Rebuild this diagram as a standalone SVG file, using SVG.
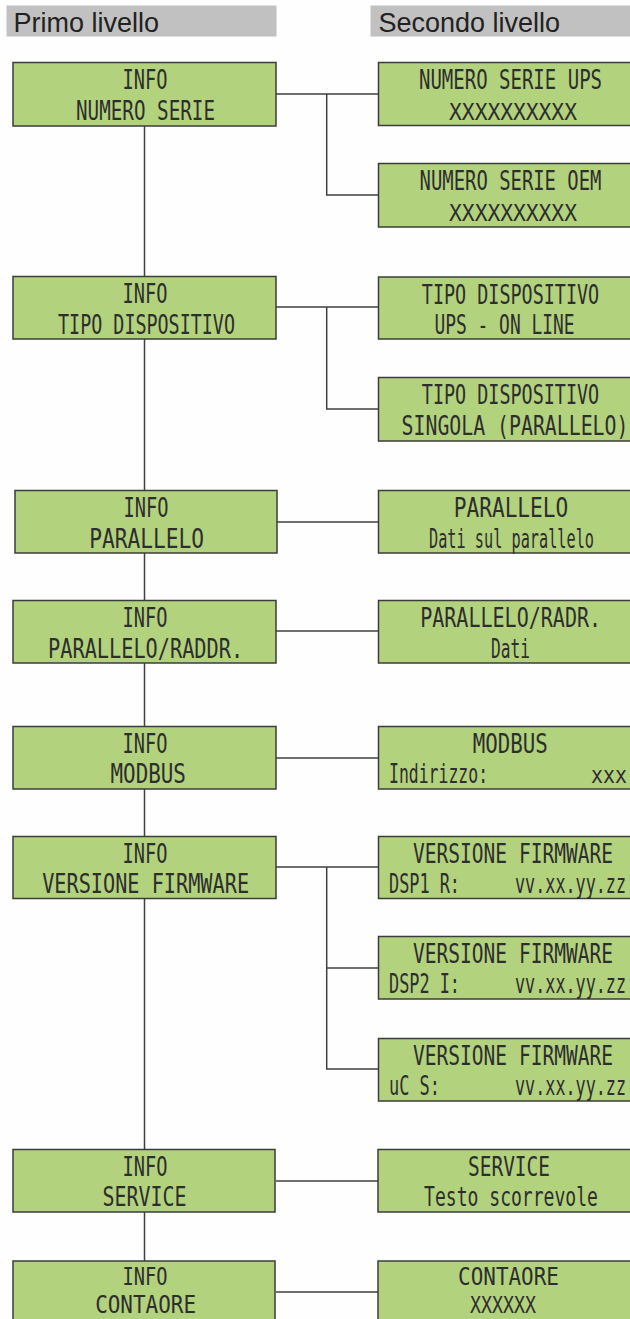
<svg xmlns="http://www.w3.org/2000/svg" width="630" height="1319" viewBox="0 0 630 1319">
<style>
.bar{fill:#c1c1c1}
.hdr{font-family:"Liberation Sans",Arial,sans-serif;font-size:27px;fill:#222}
.box{fill:#b3d27d;stroke:#3c3c3c;stroke-width:1.5}
.lcd{font-family:"DejaVu Sans Mono","Liberation Mono",monospace;font-size:26px;fill:#2e2e2e;text-anchor:middle}
.st{text-anchor:start}
.en{text-anchor:end}
.sm{font-size:23px}
.md{font-size:24px}
.conn{fill:none;stroke:#404040;stroke-width:1.5}
</style>
<rect width="630" height="1319" fill="#fefefe"/>
<g id="header">
<rect class="bar" x="6.5" y="5.5" width="270" height="31"/>
<text class="hdr" x="13.5" y="31.5">Primo livello</text>
<rect class="bar" x="370.5" y="5.5" width="260" height="31"/>
<text class="hdr" x="378.5" y="31.5">Secondo livello</text>
</g>
<g id="connectors">
<path class="conn" d="M144.5,126 V276 M144.5,339 V490 M144.5,553 V600 M144.5,663 V726 M144.5,789 V836 M144.5,898 V1149 M144.5,1212 V1261"/>
<path class="conn" d="M276,94 H378 M326.7,94 V195 H378"/>
<path class="conn" d="M276,307 H378 M326.7,307 V409 H378"/>
<path class="conn" d="M277,522 H378"/>
<path class="conn" d="M276,631 H378"/>
<path class="conn" d="M276,758 H378"/>
<path class="conn" d="M276,867 H378 M326.7,867 V1069 H378 M326.7,968 H378"/>
<path class="conn" d="M276,1181 H378"/>
<path class="conn" d="M276,1292 H378"/>
</g>
<g id="n-info-numero-serie">
<rect class="box" x="13" y="62.5" width="263" height="63.5"/>
<text class="lcd" transform="translate(145 89) scale(0.719 1)">INFO</text>
<text class="lcd" transform="translate(145.5 119.5) scale(0.74 1)">NUMERO SERIE</text>
</g>
<g id="n-numero-serie-ups">
<rect class="box" x="378.5" y="62.5" width="264" height="63"/>
<text class="lcd" transform="translate(510.5 89) scale(0.731 1)">NUMERO SERIE UPS</text>
<text class="lcd sm" transform="translate(513 119.5) scale(0.924 1)">XXXXXXXXXX</text>
</g>
<g id="n-numero-serie-oem">
<rect class="box" x="378.5" y="163.5" width="264" height="63.5"/>
<text class="lcd" transform="translate(510.5 190) scale(0.727 1)">NUMERO SERIE OEM</text>
<text class="lcd sm" transform="translate(513 220.5) scale(0.924 1)">XXXXXXXXXX</text>
</g>
<g id="n-info-tipo-dispositivo">
<rect class="box" x="13" y="276.5" width="263" height="62.5"/>
<text class="lcd" transform="translate(145 303) scale(0.719 1)">INFO</text>
<text class="lcd" transform="translate(146.5 333.5) scale(0.707 1)">TIPO DISPOSITIVO</text>
</g>
<g id="n-tipo-ups-online">
<rect class="box" x="378.5" y="277" width="264" height="62"/>
<text class="lcd" transform="translate(510.5 303.5) scale(0.709 1)">TIPO DISPOSITIVO</text>
<text class="lcd" transform="translate(504.5 334) scale(0.688 1)">UPS - ON LINE</text>
</g>
<g id="n-tipo-singola">
<rect class="box" x="378.5" y="377.5" width="264" height="63.5"/>
<text class="lcd" transform="translate(510.5 404) scale(0.709 1)">TIPO DISPOSITIVO</text>
<text class="lcd" transform="translate(515 434.5) scale(0.763 1)">SINGOLA (PARALLELO)</text>
</g>
<g id="n-info-parallelo">
<rect class="box" x="15" y="490.5" width="262" height="62.5"/>
<text class="lcd" transform="translate(146 517) scale(0.719 1)">INFO</text>
<text class="lcd" transform="translate(146.6 547.5) scale(0.816 1)">PARALLELO</text>
</g>
<g id="n-parallelo">
<rect class="box" x="378.5" y="490.5" width="264" height="62.5"/>
<text class="lcd" transform="translate(511 517) scale(0.813 1)">PARALLELO</text>
<text class="lcd" transform="translate(511.5 547.5) scale(0.586 1)">Dati sul parallelo</text>
</g>
<g id="n-info-parallelo-raddr">
<rect class="box" x="13" y="600.5" width="263" height="62.5"/>
<text class="lcd" transform="translate(145 627) scale(0.719 1)">INFO</text>
<text class="lcd" transform="translate(145.6 657.5) scale(0.779 1)">PARALLELO/RADDR.</text>
</g>
<g id="n-parallelo-radr">
<rect class="box" x="378.5" y="600.5" width="264" height="62.5"/>
<text class="lcd" transform="translate(510.6 627) scale(0.771 1)">PARALLELO/RADR.</text>
<text class="lcd" transform="translate(510.5 657.5) scale(0.623 1)">Dati</text>
</g>
<g id="n-info-modbus">
<rect class="box" x="13" y="726.5" width="263" height="62.5"/>
<text class="lcd" transform="translate(145 753) scale(0.719 1)">INFO</text>
<text class="lcd" transform="translate(148.2 783) scale(0.804 1)">MODBUS</text>
</g>
<g id="n-modbus">
<rect class="box" x="378.5" y="726.5" width="264" height="62.5"/>
<text class="lcd" transform="translate(510.2 753) scale(0.799 1)">MODBUS</text>
<text class="lcd st" transform="translate(389 782.5) scale(0.633 1)">Indirizzo:</text>
<text class="lcd sm en" transform="translate(627 782.5) scale(0.866 1)">xxx</text>
</g>
<g id="n-info-versione">
<rect class="box" x="13" y="836.5" width="263" height="62"/>
<text class="lcd" transform="translate(145 863) scale(0.719 1)">INFO</text>
<text class="lcd" transform="translate(145.6 892.5) scale(0.778 1)">VERSIONE FIRMWARE</text>
</g>
<g id="n-versione-dsp1">
<rect class="box" x="378.5" y="836.5" width="264" height="62"/>
<text class="lcd" transform="translate(513 863) scale(0.752 1)">VERSIONE FIRMWARE</text>
<text class="lcd st" transform="translate(389 892.5) scale(0.648 1)">DSP1 R:</text>
<text class="lcd en" transform="translate(626 892.5) scale(0.645 1)">vv.xx.yy.zz</text>
</g>
<g id="n-versione-dsp2">
<rect class="box" x="378.5" y="936.5" width="264" height="62.5"/>
<text class="lcd" transform="translate(513 963) scale(0.752 1)">VERSIONE FIRMWARE</text>
<text class="lcd st" transform="translate(389 993) scale(0.648 1)">DSP2 I:</text>
<text class="lcd en" transform="translate(626 993) scale(0.645 1)">vv.xx.yy.zz</text>
</g>
<g id="n-versione-uc">
<rect class="box" x="378.5" y="1038.5" width="264" height="62.5"/>
<text class="lcd" transform="translate(513 1065) scale(0.752 1)">VERSIONE FIRMWARE</text>
<text class="lcd st" transform="translate(389 1095) scale(0.652 1)">uC S:</text>
<text class="lcd en" transform="translate(626 1095) scale(0.645 1)">vv.xx.yy.zz</text>
</g>
<g id="n-info-service">
<rect class="box" x="13" y="1149.5" width="262" height="62.5"/>
<text class="lcd" transform="translate(145 1176) scale(0.719 1)">INFO</text>
<text class="lcd" transform="translate(144.6 1206) scale(0.767 1)">SERVICE</text>
</g>
<g id="n-service">
<rect class="box" x="378" y="1149.5" width="264" height="62.5"/>
<text class="lcd" transform="translate(509 1176) scale(0.749 1)">SERVICE</text>
<text class="lcd" transform="translate(511 1206) scale(0.695 1)">Testo scorrevole</text>
</g>
<g id="n-info-contaore">
<rect class="box" x="13" y="1261" width="262" height="63"/>
<text class="lcd md" transform="translate(145 1284.5) scale(0.779 1)">INFO</text>
<text class="lcd md" transform="translate(145.6 1313) scale(0.874 1)">CONTAORE</text>
</g>
<g id="n-contaore">
<rect class="box" x="378" y="1261" width="264" height="63"/>
<text class="lcd md" transform="translate(508.5 1284.5) scale(0.874 1)">CONTAORE</text>
<text class="lcd sm" transform="translate(503 1313) scale(0.794 1)">XXXXXX</text>
</g>
</svg>
